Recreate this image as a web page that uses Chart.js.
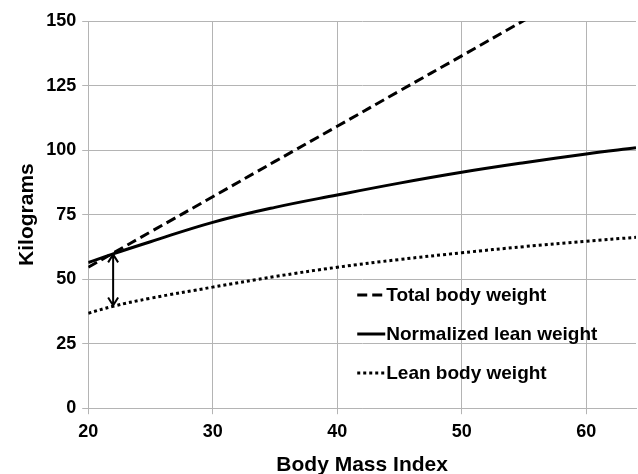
<!DOCTYPE html>
<html>
<head>
<meta charset="utf-8">
<script src="https://cdn.jsdelivr.net/npm/chart.js@4"></script>
<style>
  html, body { margin: 0; padding: 0; background: #fff; overflow: hidden; }
  #wrap { width: 638px; height: 478px; position: relative; }
</style>
</head>
<body>
<div id="wrap"><canvas id="chart"></canvas></div>
<script>
// Values
const bmi = [20, 22, 25, 30, 35, 40, 45, 50, 55, 60, 64];
const totalWeight = [54.6, 60.1, 68.3, 81.9, 95.6, 109.2, 122.9, 136.5, 150.2, 163.8, 174.7];
const normalizedLean = [56.4, 59.8, 64.5, 72.0, 77.8, 82.6, 87.2, 91.4, 95.1, 98.5, 100.9];
const leanWeight = [36.8, 39.5, 42.6, 46.9, 51.0, 54.6, 57.6, 60.2, 62.6, 64.7, 66.2];
const seriesNames = ['Total body weight', 'Normalized lean weight', 'Lean body weight'];
const yTicks = [0, 25, 50, 75, 100, 125, 150];
const xTicks = [20, 30, 40, 50, 60];
// double arrow between lean and normalized lean weight at BMI 22
const arrowX = 22;
const arrowFrom = 39.8;
const arrowTo = 59.6;

const FONT = "Arial, 'Liberation Sans', sans-serif";
const GRID = '#b4b4b4';
const dashes = [[10, 5], [], [3, 3]];

function toPoints(ys) {
    return bmi.map((x, i) => ({ x: x, y: ys[i] }));
}

// Draw the arrow between the curves
const arrowPlugin = {
    id: 'arrow',
    afterDatasetsDraw(chart) {
        const { ctx, scales } = chart;
        const x = scales.x.getPixelForValue(arrowX);
        const y1 = scales.y.getPixelForValue(arrowFrom);
        const y2 = scales.y.getPixelForValue(arrowTo);
        ctx.save();
        ctx.strokeStyle = '#000';
        ctx.lineWidth = 2;
        ctx.beginPath();
        ctx.moveTo(x, y1);
        ctx.lineTo(x, y2);
        ctx.moveTo(x - 5, y2 + 8);
        ctx.lineTo(x, y2);
        ctx.lineTo(x + 5, y2 + 8);
        ctx.moveTo(x - 5, y1 - 8);
        ctx.lineTo(x, y1);
        ctx.lineTo(x + 5, y1 - 8);
        ctx.stroke();
        ctx.restore();
    }
};

// Legend drawn inside the plot area
const insideLegend = {
    id: 'insideLegend',
    afterDraw(chart) {
        const { ctx, chartArea } = chart;
        const left = chartArea.left + 269;
        const top = chartArea.top + 274;
        ctx.save();
        ctx.font = 'bold 19px ' + FONT;
        ctx.textBaseline = 'middle';
        ctx.fillStyle = '#000';
        seriesNames.forEach((name, i) => {
            const y = top + i * 39;
            ctx.strokeStyle = '#000';
            ctx.lineWidth = 3;
            ctx.setLineDash(dashes[i]);
            ctx.beginPath();
            ctx.moveTo(left, y);
            ctx.lineTo(left + 28, y);
            ctx.stroke();
            ctx.setLineDash([]);
            ctx.fillText(name, left + 29, y + 1);
        });
        ctx.restore();
    }
};

new Chart(document.getElementById('chart'), {
    type: 'line',
    data: {
        datasets: [
            { label: seriesNames[0], data: toPoints(totalWeight), borderDash: dashes[0] },
            { label: seriesNames[1], data: toPoints(normalizedLean), borderDash: dashes[1] },
            { label: seriesNames[2], data: toPoints(leanWeight), borderDash: dashes[2] }
        ].map(d => Object.assign(d, {
            borderColor: '#000',
            borderWidth: 3,
            pointRadius: 0,
            tension: 0.4,
            fill: false
        }))
    },
    options: {
        responsive: true,
        maintainAspectRatio: false,
        animation: false,
        layout: { padding: { top: 21, right: 2, left: 15, bottom: 0 } },
        plugins: {
            legend: { display: false },
            tooltip: { enabled: false }
        },
        scales: {
            x: {
                type: 'linear',
                min: 20,
                max: 64,
                afterBuildTicks: axis => { axis.ticks = xTicks.map(v => ({ value: v })); },
                grid: { color: GRID, tickLength: 6, tickColor: GRID },
                border: { color: GRID },
                ticks: { color: '#000', padding: 7, font: { family: FONT, size: 18, weight: 'bold' } },
                title: {
                    display: true,
                    text: 'Body Mass Index',
                    color: '#000',
                    padding: { top: 3, bottom: 0 },
                    font: { family: FONT, size: 21, weight: 'bold' }
                }
            },
            y: {
                min: 0,
                max: 150,
                afterBuildTicks: axis => { axis.ticks = yTicks.map(v => ({ value: v })); },
                grid: { color: GRID, tickLength: 6, tickColor: GRID },
                border: { color: GRID },
                ticks: { color: '#000', padding: 6, font: { family: FONT, size: 18, weight: 'bold' } },
                title: {
                    display: true,
                    text: 'Kilograms',
                    color: '#000',
                    padding: { top: 0, bottom: 0 },
                    font: { family: FONT, size: 21, weight: 'bold' }
                }
            }
        }
    },
    plugins: [arrowPlugin, insideLegend]
});
</script>
</body>
</html>
